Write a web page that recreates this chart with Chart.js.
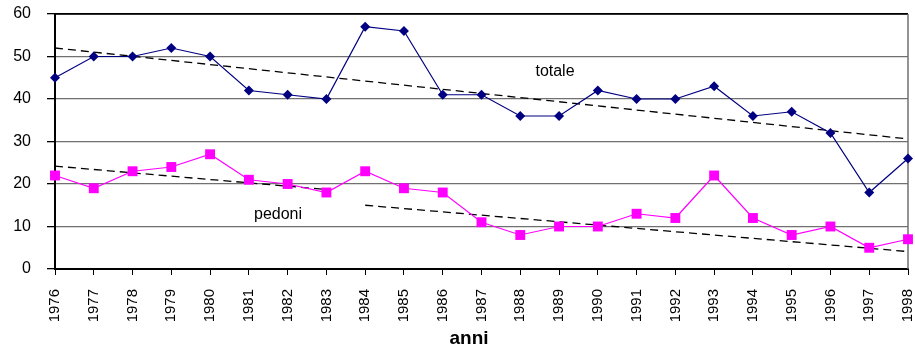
<!DOCTYPE html>
<html>
<head>
<meta charset="utf-8">
<script src="https://cdn.jsdelivr.net/npm/chart.js@4"></script>
<style>
  html, body { margin: 0; padding: 0; background: #fff; }
  #wrap { width: 915px; height: 351px; }
</style>
</head>
<body>
<div id="wrap"><canvas id="chart" width="915" height="351"></canvas></div>
<script>
// Data
const anni = ['1976', '1977', '1978', '1979', '1980', '1981', '1982', '1983', '1984', '1985', '1986', '1987',
  '1988', '1989', '1990', '1991', '1992', '1993', '1994', '1995', '1996', '1997', '1998'];
const totale = [45, 50, 50, 52, 50, 42, 41, 40, 57, 56, 41, 41, 36, 36, 42, 40, 40, 43, 36, 37, 32, 18, 26];
const pedoni = [22, 19, 23, 24, 27, 21, 20, 18, 23, 19, 18, 11, 8, 10, 10, 13, 12, 22, 12, 8, 10, 5, 7];

// dashed trend lines (only the end points)
const trendTotale = [52, null, null, null, null, null, null, null, null, null, null, null,
  null, null, null, null, null, null, null, null, null, null, 30.6];
const trendPedoni1 = [24.2, null, null, null, null, null, null, 18.7, null, null, null, null,
  null, null, null, null, null, null, null, null, null, null, null];
const trendPedoni2 = [null, null, null, null, null, null, null, null, 15, null, null, null,
  null, null, null, null, null, null, null, null, null, null, 4.1];

const yTicks = [0, 10, 20, 30, 40, 50, 60];

const FONT = 'Arial, "Liberation Sans", sans-serif';

function trend(data) {
  return {
    data: data,
    borderColor: '#000',
    borderWidth: 1.3,
    borderDash: [8, 5],
    pointRadius: 0,
    spanGaps: true,
    fill: false
  };
}

// border of the plot + free text
const extras = {
  id: 'extras',
  beforeDatasetsDraw(chart) {
    const { ctx, chartArea: a } = chart;
    ctx.save();
    ctx.strokeStyle = '#000';
    ctx.lineWidth = 1.5;
    ctx.beginPath();
    ctx.moveTo(a.left, a.top);
    ctx.lineTo(a.right, a.top);
    ctx.stroke();
    ctx.strokeStyle = '#707070';
    ctx.lineWidth = 1.5;
    ctx.beginPath();
    ctx.moveTo(a.right, a.top);
    ctx.lineTo(a.right, a.bottom);
    ctx.stroke();
    ctx.restore();
  },
  afterDraw(chart) {
    const { ctx } = chart;
    ctx.save();
    ctx.fillStyle = '#000';
    ctx.textAlign = 'center';
    ctx.textBaseline = 'middle';
    ctx.font = '16px ' + FONT;
    ctx.fillText('totale', 555, 72);
    ctx.fillText('pedoni', 278, 215);
    ctx.font = 'bold 19px ' + FONT;
    ctx.fillText('anni', 469, 339);
    ctx.restore();
  }
};

const ctx = document.getElementById('chart').getContext('2d');
const chart = new Chart(ctx, {
  type: 'line',
  data: {
    labels: anni,
    datasets: [
      {
        label: 'totale',
        data: totale,
        borderColor: '#000080',
        backgroundColor: '#000080',
        borderWidth: 1.2,
        pointStyle: 'rectRot',
        pointRadius: 5,
        pointBorderWidth: 0,
        tension: 0
      },
      {
        label: 'pedoni',
        data: pedoni,
        borderColor: '#FF00FF',
        backgroundColor: '#FF00FF',
        borderWidth: 1.2,
        pointStyle: 'rect',
        pointRadius: 7,
        pointBorderWidth: 0,
        tension: 0
      },
      trend(trendTotale),
      trend(trendPedoni1),
      trend(trendPedoni2)
    ]
  },
  options: {
    responsive: false,
    animation: false,
    layout: { padding: { top: 14, right: 6, left: 0, bottom: 0 } },
    plugins: {
      legend: { display: false },
      tooltip: { enabled: false }
    },
    scales: {
      x: {
        offset: false,
        grid: {
          drawOnChartArea: false,
          drawTicks: true,
          tickLength: 6,
          color: '#000'
        },
        border: { color: '#000', width: 2 },
        ticks: {
          autoSkip: false,
          maxRotation: 90,
          minRotation: 90,
          padding: 14,
          color: '#000',
          font: { family: FONT, size: 15 }
        },
        afterFit(scale) {
          scale.height = 82;
          scale.paddingRight = 0;
          scale.paddingLeft = 0;
          scale.paddingTop = 0;
          scale.paddingBottom = 0;
        }
      },
      y: {
        min: 0,
        max: 60,
        afterBuildTicks(scale) {
          scale.ticks = yTicks.map(v => ({ value: v }));
        },
        grid: {
          tickLength: 8,
          color: ctx => ctx.tick && ctx.tick.value === 60 ? '#000' : '#707070',
          tickColor: '#000',
          lineWidth: 1.3
        },
        border: { color: '#000', width: 2 },
        ticks: {
          padding: 16,
          color: '#000',
          font: { family: FONT, size: 16 }
        },
        afterFit(scale) {
          scale.width = 55;
          scale.paddingTop = 0;
          scale.paddingBottom = 0;
        }
      }
    }
  },
  plugins: [extras]
});
</script>
</body>
</html>
